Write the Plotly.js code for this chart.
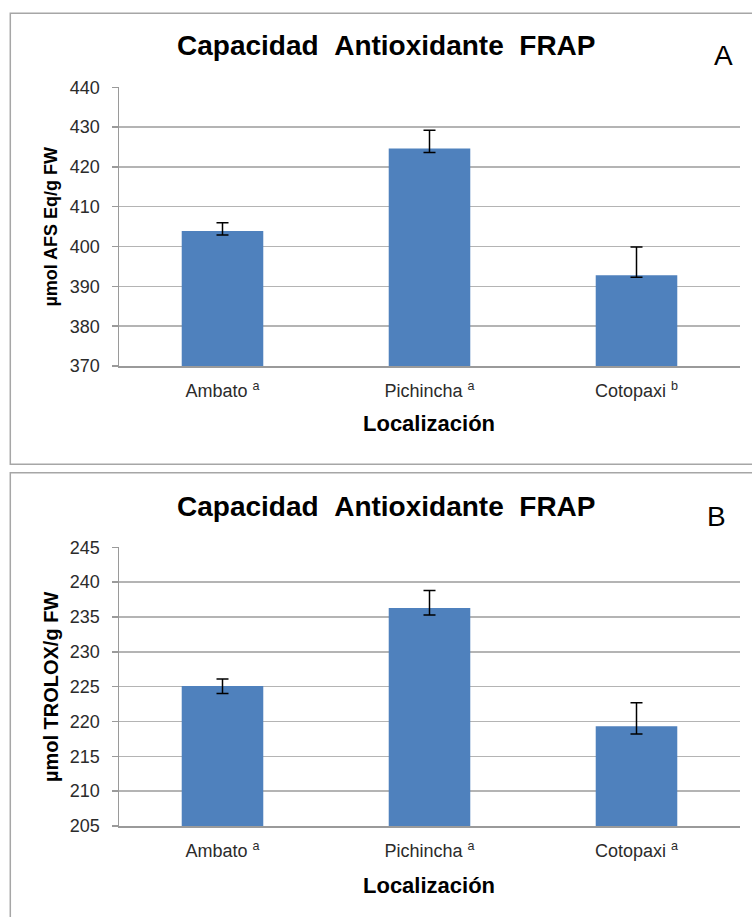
<!DOCTYPE html>
<html>
<head>
<meta charset="utf-8">
<script src="https://cdn.plot.ly/plotly-3.0.1.min.js"></script>
<style>html,body{margin:0;padding:0;background:#fff;}#chart{width:752px;height:917px;}</style>
</head>
<body>
<div id="chart"></div>
<script>
const categories = ['Ambato', 'Pichincha', 'Cotopaxi'];

const frapA = [403.9, 424.6, 392.8];
const frapAErrPlus = [2.1, 4.6, 7.1];
const frapAErrMinus = [1.0, 1.0, 0.5];
const lettersA = ['a', 'a', 'b'];

const frapB = [225.1, 236.3, 219.3];
const frapBErrPlus = [1.0, 2.5, 3.4];
const frapBErrMinus = [1.1, 1.0, 1.1];
const lettersB = ['a', 'a', 'a'];

const tickA = [370, 380, 390, 400, 410, 420, 430, 440];
const tickB = [205, 210, 215, 220, 225, 230, 235, 240, 245];

const FONT = 'Liberation Sans, Arial, sans-serif';
const barColor = '#4f81bd';
const gridColor = '#b4b4b4';
const axisColor = '#9a9a9a';

const ticktextA = categories.map((c, i) => c + ' <sup>' + lettersA[i] + '</sup>');
const ticktextB = categories.map((c, i) => c + ' <sup>' + lettersB[i] + '</sup>');

const errStyle = {type: 'data', symmetric: false, color: '#000', thickness: 1.5, width: 6};

const traces = [
  {
    type: 'bar', x: categories, y: frapA, xaxis: 'x', yaxis: 'y',
    marker: {color: barColor}, width: 0.394,
    error_y: Object.assign({array: frapAErrPlus, arrayminus: frapAErrMinus}, errStyle),
    hoverinfo: 'skip', showlegend: false
  },
  {
    type: 'bar', x: categories, y: frapB, xaxis: 'x2', yaxis: 'y2',
    marker: {color: barColor}, width: 0.394,
    error_y: Object.assign({array: frapBErrPlus, arrayminus: frapBErrMinus}, errStyle),
    hoverinfo: 'skip', showlegend: false
  }
];

function yAxis(range, ticks, domain, anchor) {
  return {
    domain: domain, anchor: anchor, range: range, tickvals: ticks, ticktext: ticks.map(String),
    showgrid: true, gridcolor: gridColor, gridwidth: 1.5,
    showline: true, linecolor: axisColor, linewidth: 1.5,
    ticks: 'outside', ticklen: 6, tickcolor: axisColor, tickwidth: 1.5,
    ticklabelstandoff: 8,
    tickfont: {family: FONT, size: 18, color: '#2b2b2b'},
    zeroline: false, fixedrange: true
  };
}
function xAxis(ticktext, domain, anchor) {
  return {
    domain: domain, anchor: anchor, type: 'category',
    tickvals: categories, ticktext: ticktext,
    showline: true, linecolor: axisColor, linewidth: 1.5,
    ticks: '', showgrid: false, ticklabelstandoff: 8,
    tickfont: {family: FONT, size: 18, color: '#2b2b2b'},
    fixedrange: true
  };
}

const xd = [119 / 752, 740 / 752];
const py = p => 1 - p / 917;

const titleFont = {family: FONT, size: 28, color: '#000'};
const TITLE = 'Capacidad\u00A0\u00A0Antioxidante\u00A0\u00A0FRAP';

const layout = {
  width: 752, height: 917,
  margin: {l: 0, r: 0, t: 0, b: 0},
  paper_bgcolor: '#fff', plot_bgcolor: '#fff',
  bargap: 0.6,
  xaxis: xAxis(ticktextA, xd, 'y'),
  yaxis: yAxis([370, 440], tickA, [py(366), py(87.3)], 'x'),
  xaxis2: xAxis(ticktextB, xd, 'y2'),
  yaxis2: yAxis([205, 245], tickB, [py(826), py(547.3)], 'x2'),
  shapes: [
    {type: 'rect', xref: 'paper', yref: 'paper', x0: 10.3 / 752, x1: 1.02, y0: py(464.3), y1: py(13.3),
     line: {color: '#a6a6a6', width: 1.5}, fillcolor: 'rgba(0,0,0,0)'},
    {type: 'rect', xref: 'paper', yref: 'paper', x0: 10.3 / 752, x1: 1.02, y0: -0.02, y1: py(472.7),
     line: {color: '#a6a6a6', width: 1.5}, fillcolor: 'rgba(0,0,0,0)'}
  ],
  annotations: [
    {text: '<b>' + TITLE + '</b>', xref: 'paper', yref: 'paper', x: 386 / 752, y: py(45.8),
     xanchor: 'center', yanchor: 'middle', showarrow: false, font: titleFont},
    {text: 'A', xref: 'paper', yref: 'paper', x: 723 / 752, y: py(56),
     xanchor: 'center', yanchor: 'middle', showarrow: false, font: {family: FONT, size: 28, color: '#000'}},
    {text: '<b>µmol AFS Eq/g FW</b>', xref: 'paper', yref: 'paper', x: 51 / 752, y: py(226.6),
     xanchor: 'center', yanchor: 'middle', textangle: -90, showarrow: false, font: {family: FONT, size: 18, color: '#000'}},
    {text: '<b>Localización</b>', xref: 'paper', yref: 'paper', x: 428.5 / 752, y: py(423),
     xanchor: 'center', yanchor: 'middle', showarrow: false, font: {family: FONT, size: 22, color: '#000'}},

    {text: '<b>' + TITLE + '</b>', xref: 'paper', yref: 'paper', x: 386 / 752, y: py(506),
     xanchor: 'center', yanchor: 'middle', showarrow: false, font: titleFont},
    {text: 'B', xref: 'paper', yref: 'paper', x: 716.5 / 752, y: py(516),
     xanchor: 'center', yanchor: 'middle', showarrow: false, font: {family: FONT, size: 28, color: '#000'}},
    {text: '<b>µmol TROLOX/g FW</b>', xref: 'paper', yref: 'paper', x: 50.5 / 752, y: py(686.6),
     xanchor: 'center', yanchor: 'middle', textangle: -90, showarrow: false, font: {family: FONT, size: 20, color: '#000'}},
    {text: '<b>Localización</b>', xref: 'paper', yref: 'paper', x: 428.5 / 752, y: py(885),
     xanchor: 'center', yanchor: 'middle', showarrow: false, font: {family: FONT, size: 22, color: '#000'}}
  ]
};

Plotly.newPlot('chart', traces, layout, {displayModeBar: false, staticPlot: true});
</script>
</body>
</html>
